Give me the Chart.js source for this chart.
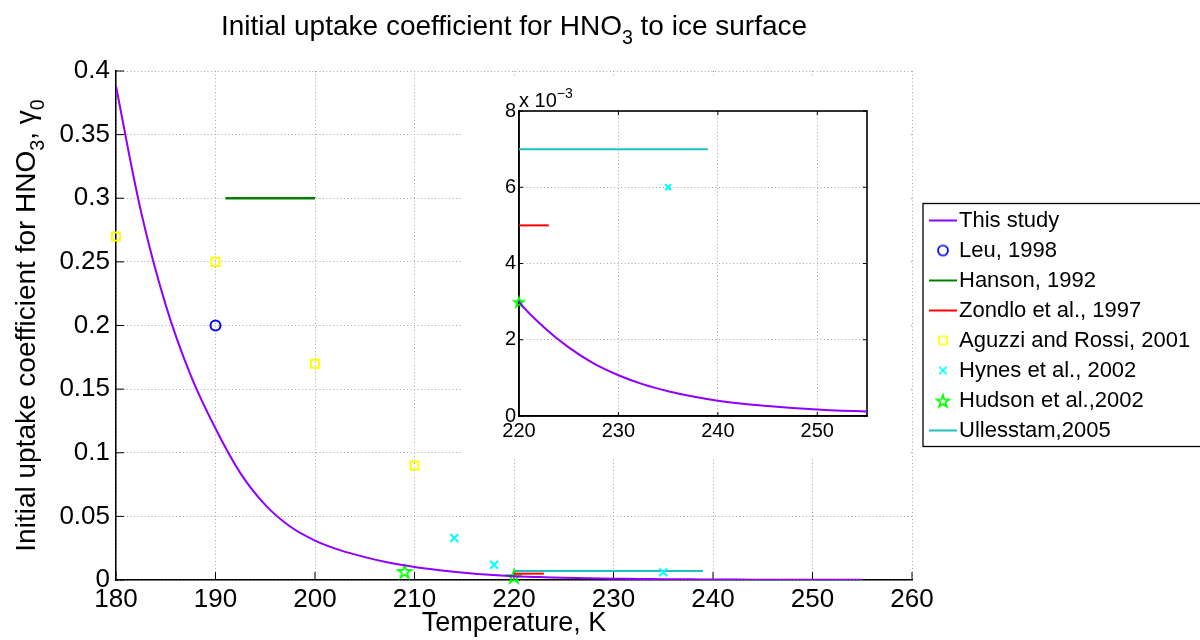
<!DOCTYPE html>
<html>
<head>
<meta charset="utf-8">
<script src="https://cdn.jsdelivr.net/npm/chart.js@4.4.1/dist/chart.umd.min.js"></script>
<style>
  body { margin: 0; background: #fff; }
  #wrap { position: relative; width: 1200px; height: 640px; }
  #main { position: absolute; left: 0; top: 0; }
  #inset { position: absolute; left: 462px; top: 77px; background: #fff; }
</style>
</head>
<body>
<div id="wrap">
  <canvas id="main" width="1200" height="640"></canvas>
  <canvas id="inset" width="448" height="382"></canvas>
</div>
<script>
/* ---------- data ---------- */
const tempK = [180, 182.5, 185, 187.5, 190, 192.5, 195, 197.5, 200, 202.5, 205, 207.5, 210, 212.5, 215, 217.5,
               220, 222.5, 225, 227.5, 230, 232.5, 235, 237.5, 240, 242.5, 245, 247.5, 250, 252.5, 255];
const gammaStudy = [0.388, 0.290, 0.216, 0.161, 0.119, 0.084, 0.059, 0.042, 0.031, 0.0235, 0.018, 0.0135, 0.0102, 0.0077, 0.0057, 0.0041,
                    0.0030, 0.00233, 0.00180, 0.00138, 0.00107, 0.00083, 0.00065, 0.00051, 0.00040, 0.00032, 0.00026, 0.00021, 0.00017, 0.00014, 0.00012];

const leuT = [190];                    const leuG = [0.2];
const hansonT = [191, 200];            const hansonG = [0.3, 0.3];
const zondloT = [220, 223];            const zondloG = [0.005, 0.005];
const aguzziT = [180, 190, 200, 210];  const aguzziG = [0.27, 0.25, 0.17, 0.09];
const hynesT = [214, 218, 235];        const hynesG = [0.033, 0.012, 0.006];
const hudsonT = [209, 220];            const hudsonG = [0.007, 0.003];
const ullesT = [220, 239];             const ullesG = [0.007, 0.007];

const seriesNames = ['This study', 'Leu, 1998', 'Hanson, 1992', 'Zondlo et al., 1997',
                     'Aguzzi and Rossi, 2001', 'Hynes et al., 2002', 'Hudson et al.,2002', 'Ullesstam,2005'];

// tick labels
const xTicksMain = [180, 190, 200, 210, 220, 230, 240, 250, 260];
const yTicksMain = [0, 0.05, 0.1, 0.15, 0.2, 0.25, 0.3, 0.35, 0.4];
const xTicksInset = [220, 230, 240, 250];
const yTicksInset = [0, 0.002, 0.004, 0.006, 0.008];
const insetRangeT = [220, 255];

// texts
const titleParts = [['Initial uptake coefficient for HNO'], ['3', 'sub'], [' to ice surface']];
const yTitleParts = [['Initial uptake coefficient for HNO'], ['3', 'sub'], [', \u03b3'], ['0', 'sub']];
const xTitle = 'Temperature, K';
const expParts = [['x 10'], ['\u22123', 'sup']];

/* ---------- styles ---------- */
const FONT = "'Liberation Sans', Arial, Helvetica, sans-serif";
Chart.defaults.font.family = FONT;
Chart.defaults.color = '#000';

const colors = {
    study: '#8f00ff', leu: '#0000ff', hanson: '#008000', zondlo: '#ff0000',
    aguzzi: '#ffff00', hynes: '#00ffff', hudson: '#00ff00', ulles: '#1ec0c0'
};

const pts = (xs, ys) => xs.map((x, i) => ({ x: x, y: ys[i] }));

// small canvases used as marker / legend glyphs
function glyph(kind, color, r, w, h, cx) {
    const c = document.createElement('canvas');
    c.width = w; c.height = h;
    const g = c.getContext('2d');
    g.strokeStyle = color;
    g.lineWidth = kind === 'line' ? 2 : 1.7;
    const x = cx, y = h / 2;
    g.beginPath();
    if (kind === 'line') { g.moveTo(x - r, y); g.lineTo(x + r, y); }
    else if (kind === 'circle') { g.arc(x, y, r, 0, Math.PI * 2); }
    else if (kind === 'square') { g.rect(x - r, y - r, 2 * r, 2 * r); }
    else if (kind === 'cross') { g.moveTo(x - r, y - r); g.lineTo(x + r, y + r); g.moveTo(x + r, y - r); g.lineTo(x - r, y + r); }
    else if (kind === 'star') {
        for (let k = 0; k < 10; k++) {
            const a = -Math.PI / 2 + k * Math.PI / 5;
            const rr = k % 2 ? r * 0.38 : r;
            const px = x + rr * Math.cos(a), py = y + 1 + rr * Math.sin(a);
            if (k === 0) g.moveTo(px, py); else g.lineTo(px, py);
        }
        g.closePath();
    }
    g.stroke();
    return c;
}

const starBig = glyph('star', colors.hudson, 7, 18, 18, 9);
const starSmall = glyph('star', colors.hudson, 5, 14, 14, 7);
const legendIcons = [
    glyph('line', colors.study, 14, 46, 22, 32),
    glyph('circle', colors.leu, 5, 46, 22, 32),
    glyph('line', colors.hanson, 14, 46, 22, 32),
    glyph('line', colors.zondlo, 14, 46, 22, 32),
    glyph('square', colors.aguzzi, 4, 46, 22, 32),
    glyph('cross', colors.hynes, 3.6, 46, 22, 32),
    glyph('star', colors.hudson, 6.5, 46, 22, 32),
    glyph('line', colors.ulles, 14, 46, 22, 32)
];

function buildDatasets(small) {
    const line = (i, xs, ys, color, w) => ({
        label: seriesNames[i], data: pts(xs, ys), showLine: true,
        borderColor: color, backgroundColor: color, borderWidth: w, pointRadius: 0
    });
    const marks = (i, xs, ys, color, style, r) => ({
        label: seriesNames[i], data: pts(xs, ys), showLine: false, clip: false,
        pointStyle: style, pointRadius: r, pointBorderWidth: 2,
        pointBorderColor: color, pointBackgroundColor: 'rgba(0,0,0,0)',
        borderColor: color, backgroundColor: 'rgba(0,0,0,0)'
    });
    const study = line(0, tempK, gammaStudy, colors.study, 2);
    study.tension = 0.35;
    return [
        study,
        marks(1, leuT, leuG, colors.leu, 'circle', small ? 4 : 5),
        line(2, hansonT, hansonG, colors.hanson, 2.5),
        line(3, zondloT, zondloG, colors.zondlo, 2),
        marks(4, aguzziT, aguzziG, colors.aguzzi, 'rect', small ? 4.5 : 5.7),
        marks(5, hynesT, hynesG, colors.hynes, 'crossRot', small ? 4.2 : 5.6),
        marks(6, hudsonT, hudsonG, colors.hudson, small ? starSmall : starBig, small ? 5 : 7),
        line(7, ullesT, ullesG, colors.ulles, 2)
    ];
}

const gridOpts = { color: '#a8a8a8', lineWidth: 1, drawTicks: false };
const borderOpts = { display: true, color: '#000', width: 1.5, dash: [1, 2.5] };

/* ---------- plugins ---------- */
function drawRich(ctx, parts, size, align) {
    const sizes = parts.map(p => p[1] ? size * 0.7 : size);
    const widths = parts.map((p, i) => { ctx.font = sizes[i] + 'px ' + FONT; return ctx.measureText(p[0]).width; });
    const total = widths.reduce((a, b) => a + b, 0);
    let x = align === 'center' ? -total / 2 : 0;
    ctx.fillStyle = '#000';
    ctx.textAlign = 'left';
    ctx.textBaseline = 'alphabetic';
    parts.forEach((p, i) => {
        const dy = p[1] === 'sub' ? size * 0.32 : p[1] === 'sup' ? -size * 0.45 : 0;
        ctx.font = sizes[i] + 'px ' + FONT;
        ctx.fillText(p[0], x, dy);
        x += widths[i];
    });
}

const richText = items => ({
    id: 'richText',
    afterDraw(chart) {
        const ctx = chart.ctx;
        items.forEach(it => {
            const p = it.at(chart.chartArea);
            ctx.save();
            ctx.translate(p.x, p.y);
            if (it.rotate) ctx.rotate(it.rotate);
            drawRich(ctx, it.parts, it.size, it.align);
            ctx.restore();
        });
    }
});

// MATLAB style ticks pointing into the plot (+ closed box for the inset)
const inTicks = (len, box) => ({
    id: 'inTicks',
    beforeDatasetsDraw(chart) {
        const { ctx, chartArea: a, scales: { x, y } } = chart;
        ctx.save();
        ctx.strokeStyle = '#000';
        ctx.lineWidth = 1;
        ctx.beginPath();
        x.ticks.forEach(t => {
            const px = x.getPixelForValue(t.value);
            ctx.moveTo(px, a.bottom); ctx.lineTo(px, a.bottom - len);
            if (box) { ctx.moveTo(px, a.top); ctx.lineTo(px, a.top + len); }
        });
        y.ticks.forEach(t => {
            const py = y.getPixelForValue(t.value);
            ctx.moveTo(a.left, py); ctx.lineTo(a.left + len, py);
            if (box) { ctx.moveTo(a.right, py); ctx.lineTo(a.right - len, py); }
        });
        ctx.stroke();
        if (box) {
            ctx.lineWidth = 1.6;
            ctx.strokeRect(a.left, a.top, a.width, a.height);
        }
        ctx.restore();
    }
});

const legendFrame = {
    id: 'legendFrame',
    afterDraw(chart) {
        const hb = chart.legend.legendHitBoxes;
        if (!hb || !hb.length) return;
        const first = hb[0], last = hb[hb.length - 1];
        const ctx = chart.ctx;
        ctx.save();
        ctx.strokeStyle = '#000';
        ctx.lineWidth = 1.3;
        ctx.strokeRect(first.left + 3, first.top - 6, chart.width, last.top + last.height - first.top + 11);
        ctx.restore();
    }
};

/* ---------- main chart ---------- */
new Chart(document.getElementById('main'), {
    type: 'scatter',
    data: { datasets: buildDatasets(false) },
    options: {
        responsive: false,
        animation: false,
        events: [],
        layout: { padding: { top: 71, left: 0, right: 0, bottom: 0 } },
        scales: {
            x: {
                type: 'linear',
                min: xTicksMain[0], max: xTicksMain[xTicksMain.length - 1],
                afterBuildTicks: s => { s.ticks = xTicksMain.map(v => ({ value: v })); },
                afterFit: s => { s.height = 60; },
                ticks: { font: { size: 26 }, padding: 4, maxRotation: 0, autoSkip: false, callback: v => String(v) },
                grid: gridOpts,
                border: borderOpts,
                title: { display: true, text: xTitle, font: { size: 27 }, padding: 0 }
            },
            y: {
                type: 'linear',
                min: yTicksMain[0], max: yTicksMain[yTicksMain.length - 1],
                afterBuildTicks: s => { s.ticks = yTicksMain.map(v => ({ value: v })); },
                afterFit: s => { s.width = 116; },
                ticks: { font: { size: 26 }, padding: 6, autoSkip: false, callback: v => String(+v.toFixed(3)) },
                grid: gridOpts,
                border: borderOpts
            }
        },
        plugins: {
            tooltip: { enabled: false },
            legend: {
                position: 'right',
                align: 'center',
                fullSize: false,
                maxWidth: 288,
                labels: {
                    usePointStyle: true,
                    pointStyleWidth: 28,
                    padding: 8,
                    color: '#000',
                    font: { size: 22 },
                    generateLabels: chart => Chart.defaults.plugins.legend.labels.generateLabels(chart)
                        .map((item, i) => Object.assign(item, { pointStyle: legendIcons[i], fontColor: '#000' }))
                }
            }
        }
    },
    plugins: [
        inTicks(8, false),
        legendFrame,
        richText([
            { parts: titleParts, size: 28, align: 'center', at: a => ({ x: (a.left + a.right) / 2, y: 35 }) },
            { parts: yTitleParts, size: 28, align: 'center', rotate: -Math.PI / 2, at: a => ({ x: 35, y: (a.top + a.bottom) / 2 }) }
        ])
    ]
});

/* ---------- inset (zoom on 220-255 K) ---------- */
new Chart(document.getElementById('inset'), {
    type: 'scatter',
    data: { datasets: buildDatasets(true) },
    options: {
        responsive: false,
        animation: false,
        events: [],
        layout: { padding: { top: 34, right: 43, left: 0, bottom: 0 } },
        scales: {
            x: {
                type: 'linear',
                min: insetRangeT[0], max: insetRangeT[1],
                afterBuildTicks: s => { s.ticks = xTicksInset.map(v => ({ value: v })); },
                afterFit: s => { s.height = 43; },
                ticks: { font: { size: 20 }, padding: 3, maxRotation: 0, autoSkip: false, callback: v => String(v) },
                grid: gridOpts,
                border: borderOpts
            },
            y: {
                type: 'linear',
                min: yTicksInset[0], max: yTicksInset[yTicksInset.length - 1],
                afterBuildTicks: s => { s.ticks = yTicksInset.map(v => ({ value: v })); },
                afterFit: s => { s.width = 57; },
                ticks: { font: { size: 20 }, padding: 3, autoSkip: false, callback: v => String(Math.round(v * 1000)) },
                grid: gridOpts,
                border: borderOpts
            }
        },
        plugins: {
            tooltip: { enabled: false },
            legend: { display: false }
        }
    },
    plugins: [
        inTicks(4, true),
        richText([
            { parts: expParts, size: 20, align: 'left', at: a => ({ x: a.left, y: a.top - 4 }) }
        ])
    ]
});
</script>
</body>
</html>
